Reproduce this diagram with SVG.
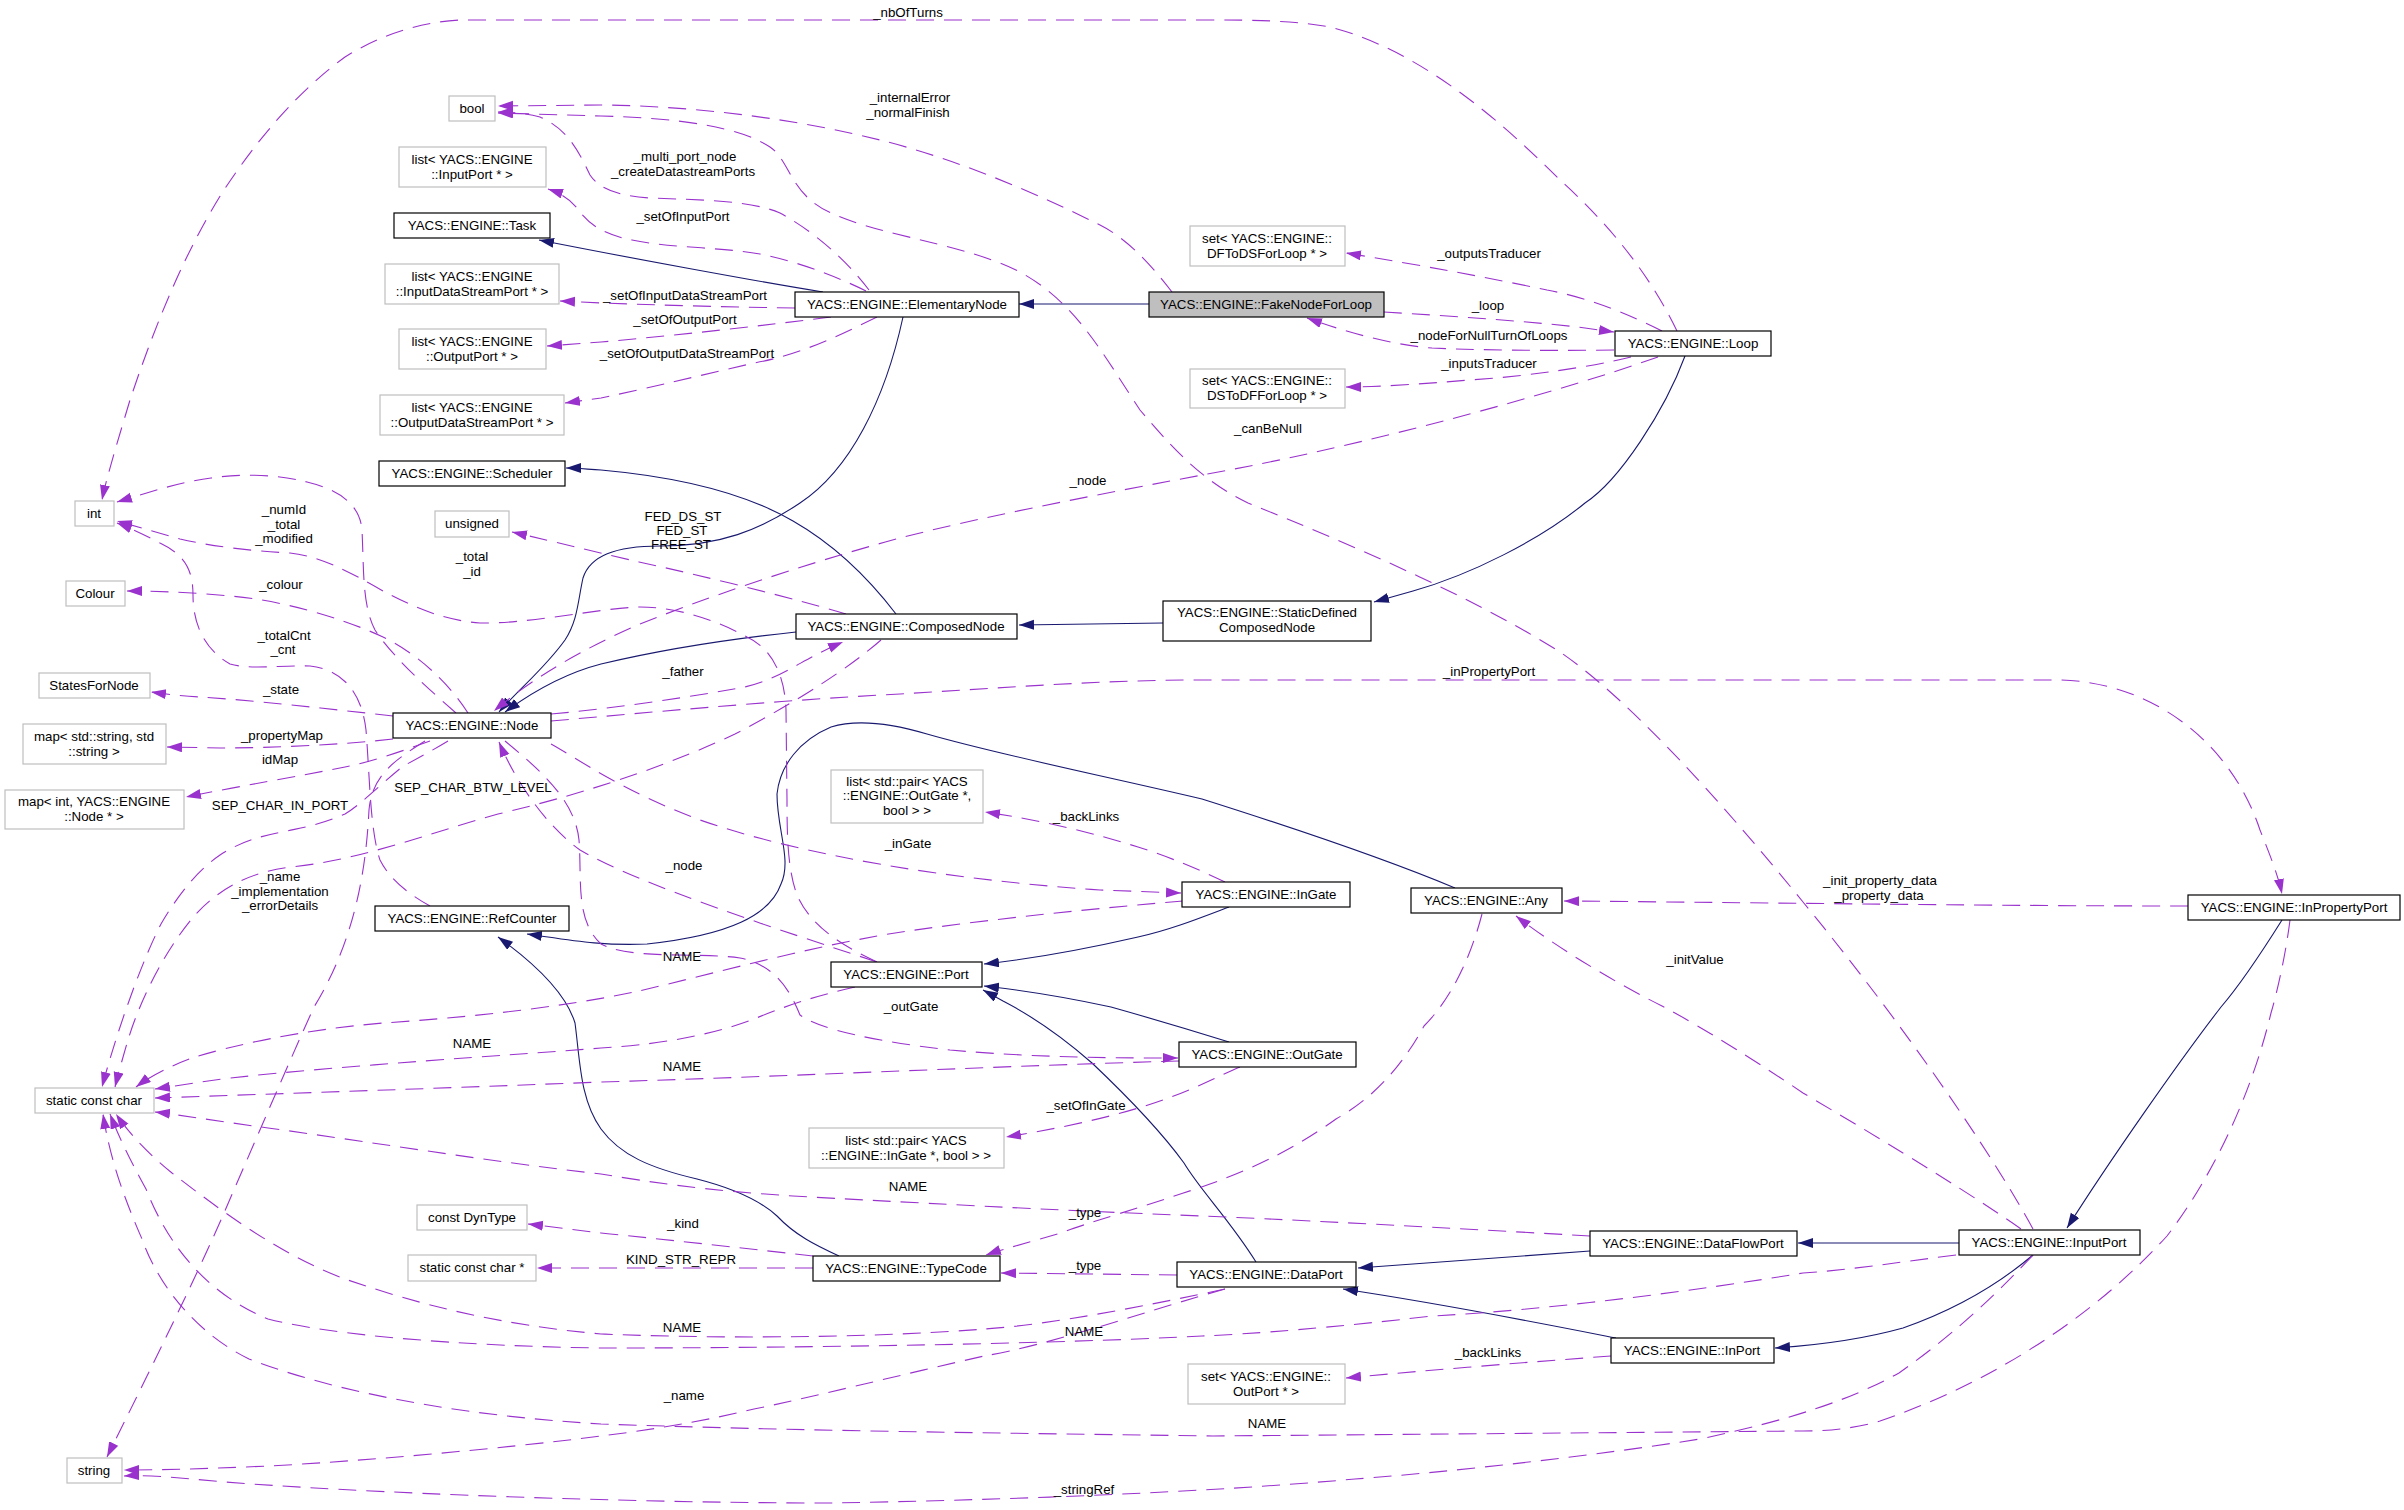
<svg xmlns="http://www.w3.org/2000/svg" width="2404" height="1510" viewBox="0 0 2404 1510">
<style>
text{font-family:"Liberation Sans",Arial,sans-serif;font-size:13.3px;fill:#000;text-anchor:middle}
.n{fill:#fff;stroke:#000;stroke-width:1.2}
.g{fill:#fff;stroke:#bfbfbf;stroke-width:1.2}
.f{fill:#bfbfbf;stroke:#000;stroke-width:1.2}
.e{fill:none;stroke:#9a32cd;stroke-width:1.1;stroke-dasharray:18,10;marker-end:url(#ap)}
.s{fill:none;stroke:#191970;stroke-width:1.1;marker-end:url(#ab)}
</style>
<defs>
<marker id="ap" markerUnits="userSpaceOnUse" markerWidth="16" markerHeight="11" refX="15" refY="5" orient="auto"><path d="M0,0 L15,5 L0,10 z" fill="#9a32cd"/></marker>
<marker id="ab" markerUnits="userSpaceOnUse" markerWidth="16" markerHeight="11" refX="15" refY="5" orient="auto"><path d="M0,0 L15,5 L0,10 z" fill="#191970"/></marker>
</defs>
<rect width="2404" height="1510" fill="#fff"/>
<g id="edges">
<path class="s" d="M1149,304 L1019,304"/>
<path class="s" d="M823,292 C760,282 620,256 539,240"/>
<path class="s" d="M903,317 C885,400 850,470 800,503 C760,530 720,546 660,546 C615,546 590,556 583,578 C578,600 578,620 565,640 C545,668 520,688 499,712"/>
<path class="s" d="M796,632 C720,640 660,650 601,664 C570,672 535,690 505,712"/>
<path class="s" d="M896,614 C870,580 835,545 793,521 C750,496 690,478 601,470 C585,469 575,468 566,468"/>
<path class="s" d="M1163,623 L1019,625"/>
<path class="s" d="M1685,356 C1665,410 1620,480 1585,503 C1540,540 1470,575 1413,591 L1374,602"/>
<path class="s" d="M1455,888 C1400,865 1300,830 1202,799 C1100,775 1000,755 927,734 C900,726 860,718 831,727 C800,740 780,765 777,794 C777,830 792,860 781,884 C770,915 730,935 647,944 C600,946 570,940 527,934"/>
<path class="s" d="M839,1256 C815,1245 795,1235 777,1216 C765,1205 740,1190 697,1179 C650,1168 620,1155 601,1129 C580,1100 580,1060 575,1023 C565,990 530,960 498,937"/>
<path class="s" d="M1256,1262 C1230,1220 1200,1190 1184,1163 C1160,1130 1130,1099 1092,1063 C1060,1035 1030,1015 1003,1001 L983,990"/>
<path class="s" d="M1229,1042 C1200,1033 1150,1018 1111,1007 C1060,996 1020,990 984,986"/>
<path class="s" d="M1229,907 C1200,918 1170,930 1138,937 C1090,948 1040,958 984,964"/>
<path class="s" d="M1590,1251 C1500,1257 1420,1263 1358,1268"/>
<path class="s" d="M1616,1338 C1550,1325 1450,1305 1343,1289"/>
<path class="s" d="M1959,1243 L1798,1243"/>
<path class="s" d="M2033,1255 C2000,1283 1960,1308 1903,1328 C1860,1340 1820,1345 1775,1348"/>
<path class="s" d="M2282,920 C2260,955 2240,985 2221,1007 C2180,1060 2110,1160 2067,1228"/>

<path class="e" d="M1172,292 C1155,270 1130,240 1100,225 C1040,195 960,160 880,140 C800,120 700,106 601,105 L498,106"/>
<path class="e" d="M2033,1229 C1990,1150 1900,1020 1803,902 C1720,800 1630,700 1560,652 C1470,595 1340,540 1248,503 C1200,480 1170,445 1140,410 C1100,350 1070,290 1000,263 C940,240 880,235 831,213 C790,195 790,160 770,147 C740,127 680,118 601,116 L498,113"/>
<path class="e" d="M869,290 C850,265 820,235 780,213 C750,200 700,200 650,198 C620,196 600,190 590,175 C580,155 570,130 540,117 C525,113 510,112 498,112"/>
<path class="e" d="M866,291 C840,278 800,262 760,254 C720,247 670,248 632,240 C605,235 590,225 580,212 C572,200 560,193 548,189"/>
<path class="e" d="M795,308 C720,307 660,305 601,303 L560,301"/>
<path class="e" d="M831,317 C760,326 680,335 601,342 L547,346"/>
<path class="e" d="M877,317 C840,335 800,355 754,363 C690,378 630,392 601,398 L565,403"/>
<path class="e" d="M1384,312 C1450,316 1540,322 1585,328 L1614,332"/>
<path class="e" d="M1614,350 C1550,351 1470,350 1432,348 C1390,345 1340,330 1307,318"/>
<path class="e" d="M1662,331 C1630,315 1590,298 1547,290 C1490,278 1420,265 1346,253"/>
<path class="e" d="M1631,357 C1590,367 1530,376 1470,380 C1420,384 1380,387 1346,387"/>
<path class="e" d="M1677,331 C1650,275 1610,225 1560,180 C1500,120 1420,50 1330,27 C1290,20 1250,20 1202,20 L460,20 C420,22 380,35 345,57 C300,90 260,135 222,193 C180,260 150,340 130,400 C115,450 106,480 102,500"/>
<path class="e" d="M1658,357 C1550,395 1380,440 1250,466 C1150,485 1000,512 900,538 C800,565 700,600 640,624 C580,650 530,680 494,711"/>
<path class="e" d="M846,614 C800,600 700,575 639,562 C600,553 560,543 512,532"/>
<path class="e" d="M877,962 C840,945 810,925 797,895 C788,870 787,840 787,800 L786,710 C785,680 775,650 747,637 C720,622 680,607 640,607 C600,608 530,624 480,623 C440,620 410,605 383,591 C350,572 320,556 290,553 C250,551 210,546 180,539 L117,521"/>
<path class="e" d="M456,713 C430,690 395,660 375,630 C362,605 364,570 362,530 C360,505 340,490 307,482 C280,475 245,473 211,478 C180,482 150,492 117,502"/>
<path class="e" d="M430,906 C410,895 390,880 380,860 C370,830 370,780 366,730 C362,695 345,670 310,666 C280,665 250,670 230,664 C205,650 193,625 193,595 C193,570 185,555 160,543 C145,535 130,528 117,523"/>
<path class="e" d="M468,713 C450,685 420,655 383,637 C340,617 280,600 230,596 C190,592 150,591 127,591"/>
<path class="e" d="M393,716 C330,709 250,700 200,697 C180,696 165,694 151,692"/>
<path class="e" d="M393,739 C340,745 270,748 220,748 L167,747"/>
<path class="e" d="M430,741 C400,752 370,762 345,767 C300,776 240,786 186,797"/>
<path class="e" d="M448,741 C430,752 410,762 402,767 C380,785 360,805 345,814 C320,825 300,828 287,831 C260,836 240,842 220,855 C195,872 175,900 161,924 C145,955 120,1020 102,1087"/>
<path class="e" d="M881,640 C850,667 800,700 735,734 C680,760 600,790 498,814 C420,836 360,860 291,867 C250,872 220,888 195,915 C165,950 140,1000 128,1040 C122,1060 118,1075 115,1087"/>
<path class="e" d="M551,714 C620,708 700,695 740,688 C780,680 800,660 843,642"/>
<path class="e" d="M551,721 C620,715 780,700 900,694 C1000,688 1100,680 1200,680 L2060,680 C2150,682 2230,740 2260,830 C2270,855 2278,875 2282,894"/>
<path class="e" d="M551,744 C580,760 620,790 700,820 C800,855 950,880 1100,890 L1181,893"/>
<path class="e" d="M877,962 C780,930 640,885 580,850 C545,825 515,780 499,742"/>
<path class="e" d="M505,741 C540,770 575,800 579,840 C582,880 575,920 601,944 C630,960 700,952 740,958 C775,965 790,990 800,1015 C820,1030 880,1042 950,1050 C1040,1058 1120,1058 1178,1058"/>
<path class="e" d="M1225,882 C1200,870 1170,857 1138,847 C1090,832 1040,820 985,812"/>
<path class="e" d="M1183,901 C1100,908 1000,918 908,931 C820,944 720,972 639,991 C560,1008 460,1018 383,1023 C300,1030 230,1046 192,1058 C165,1068 148,1078 136,1087"/>
<path class="e" d="M855,987 C820,995 790,1004 754,1019 C720,1032 670,1044 601,1048 C500,1056 350,1065 230,1078 C200,1082 175,1086 155,1089"/>
<path class="e" d="M1179,1061 C1000,1066 800,1076 601,1082 C450,1088 300,1093 155,1098"/>
<path class="e" d="M1240,1067 C1220,1075 1190,1092 1145,1106 C1100,1120 1050,1130 1006,1137"/>
<path class="e" d="M1590,1236 C1450,1228 1300,1220 1202,1216 C1050,1210 900,1202 793,1196 C700,1190 650,1182 601,1174 C500,1163 350,1139 268,1128 C210,1120 180,1115 155,1112"/>
<path class="e" d="M1225,1289 C1150,1305 1050,1325 984,1329 C900,1336 750,1340 601,1334 C500,1325 420,1305 345,1279 C280,1255 220,1210 172,1173 C150,1155 130,1135 116,1114"/>
<path class="e" d="M1956,1255 C1900,1262 1850,1270 1803,1273 C1700,1290 1550,1310 1432,1316 C1330,1328 1250,1334 1202,1336 C1050,1344 800,1348 601,1348 C460,1346 330,1335 268,1319 C210,1295 170,1250 146,1189 C130,1160 118,1135 110,1114"/>
<path class="e" d="M2290,920 C2285,960 2275,1000 2271,1013 C2250,1100 2210,1180 2167,1236 C2100,1310 2000,1380 1880,1421 C1850,1430 1820,1431 1803,1431 L1213,1436 C1000,1433 800,1431 601,1424 C450,1415 330,1390 249,1359 C200,1335 160,1290 142,1239 C125,1200 110,1160 103,1114"/>
<path class="e" d="M425,741 C395,760 372,775 369,810 C366,870 355,940 314,1007 C290,1060 260,1130 230,1199 C200,1270 150,1370 107,1457"/>
<path class="e" d="M1225,1289 C1150,1310 1050,1345 984,1356 C900,1375 800,1400 754,1409 C700,1422 650,1430 601,1436 C500,1449 350,1462 268,1466 C200,1469 160,1470 124,1470"/>
<path class="e" d="M2033,1255 C2000,1290 1960,1330 1899,1373 C1850,1400 1790,1420 1700,1439 C1600,1455 1450,1472 1355,1479 C1200,1493 1000,1500 831,1503 C600,1503 300,1490 192,1479 C160,1476 140,1475 124,1476"/>
<path class="e" d="M1482,914 C1470,960 1450,1000 1424,1026 C1400,1070 1370,1100 1336,1119 C1300,1145 1260,1166 1210,1184 C1150,1205 1080,1225 1061,1233 C1030,1242 1000,1250 986,1255"/>
<path class="e" d="M1177,1275 L1001,1273"/>
<path class="e" d="M813,1256 C760,1250 680,1241 601,1233 L528,1224"/>
<path class="e" d="M813,1268 L537,1268"/>
<path class="e" d="M1611,1356 C1530,1362 1430,1370 1346,1378"/>
<path class="e" d="M2021,1229 C1980,1200 1900,1150 1803,1093 C1740,1050 1680,1015 1662,1006 C1620,985 1560,950 1516,916"/>
<path class="e" d="M2188,906 C2000,906 1800,903 1564,901"/>

<text x="908" y="17">_nbOfTurns</text>
<text x="910" y="102">_internalError</text>
<text x="908" y="117">_normalFinish</text>
<text x="685" y="161">_multi_port_node</text>
<text x="683" y="176">_createDatastreamPorts</text>
<text x="683" y="221">_setOfInputPort</text>
<text x="685" y="300">_setOfInputDataStreamPort</text>
<text x="685" y="324">_setOfOutputPort</text>
<text x="687" y="358">_setOfOutputDataStreamPort</text>
<text x="1489" y="258">_outputsTraducer</text>
<text x="1488" y="310">_loop</text>
<text x="1489" y="340">_nodeForNullTurnOfLoops</text>
<text x="1489" y="368">_inputsTraducer</text>
<text x="1268" y="433">_canBeNull</text>
<text x="1088" y="485">_node</text>
<text x="284" y="514">_numId</text>
<text x="284" y="529">_total</text>
<text x="284" y="543">_modified</text>
<text x="683" y="521">FED_DS_ST</text>
<text x="682" y="535">FED_ST</text>
<text x="681" y="549">FREE_ST</text>
<text x="472" y="561">_total</text>
<text x="472" y="576">_id</text>
<text x="281" y="589">_colour</text>
<text x="284" y="640">_totalCnt</text>
<text x="283" y="654">_cnt</text>
<text x="683" y="676">_father</text>
<text x="1489" y="676">_inPropertyPort</text>
<text x="281" y="694">_state</text>
<text x="282" y="740">_propertyMap</text>
<text x="280" y="764">idMap</text>
<text x="473" y="792">SEP_CHAR_BTW_LEVEL</text>
<text x="280" y="810">SEP_CHAR_IN_PORT</text>
<text x="1086" y="821">_backLinks</text>
<text x="908" y="848">_inGate</text>
<text x="684" y="870">_node</text>
<text x="280" y="881">_name</text>
<text x="280" y="896">_implementation</text>
<text x="280" y="910">_errorDetails</text>
<text x="1880" y="885">_init_property_data</text>
<text x="1879" y="900">_property_data</text>
<text x="682" y="961">NAME</text>
<text x="1695" y="964">_initValue</text>
<text x="911" y="1011">_outGate</text>
<text x="472" y="1048">NAME</text>
<text x="682" y="1071">NAME</text>
<text x="1086" y="1110">_setOfInGate</text>
<text x="908" y="1191">NAME</text>
<text x="1085" y="1217">_type</text>
<text x="683" y="1228">_kind</text>
<text x="681" y="1264">KIND_STR_REPR</text>
<text x="1085" y="1270">_type</text>
<text x="682" y="1332">NAME</text>
<text x="1084" y="1336">NAME</text>
<text x="1488" y="1357">_backLinks</text>
<text x="684" y="1400">_name</text>
<text x="1267" y="1428">NAME</text>
<text x="1084" y="1494">_stringRef</text>
</g>

<g id="bool"><rect class="g" x="449" y="96" width="46" height="25"/><text x="472" y="113">bool</text></g>
<g id="listInputPort"><rect class="g" x="399" y="147" width="147" height="40"/><text x="472" y="164">list&lt; YACS::ENGINE</text><text x="472" y="179">::InputPort * &gt;</text></g>
<g id="Task"><rect class="n" x="394" y="213" width="156" height="25"/><text x="472" y="230">YACS::ENGINE::Task</text></g>
<g id="listInputDSP"><rect class="g" x="385" y="264" width="174" height="40"/><text x="472" y="281">list&lt; YACS::ENGINE</text><text x="472" y="296">::InputDataStreamPort * &gt;</text></g>
<g id="listOutputPort"><rect class="g" x="399" y="329" width="147" height="40"/><text x="472" y="346">list&lt; YACS::ENGINE</text><text x="472" y="361">::OutputPort * &gt;</text></g>
<g id="listOutputDSP"><rect class="g" x="380" y="395" width="184" height="40"/><text x="472" y="412">list&lt; YACS::ENGINE</text><text x="472" y="427">::OutputDataStreamPort * &gt;</text></g>
<g id="Scheduler"><rect class="n" x="379" y="461" width="186" height="25"/><text x="472" y="478">YACS::ENGINE::Scheduler</text></g>
<g id="int"><rect class="g" x="75" y="501" width="39" height="25"/><text x="94" y="518">int</text></g>
<g id="unsigned"><rect class="g" x="435" y="511" width="74" height="26"/><text x="472" y="528">unsigned</text></g>
<g id="Colour"><rect class="g" x="66" y="581" width="59" height="25"/><text x="95" y="598">Colour</text></g>
<g id="StatesForNode"><rect class="g" x="39" y="673" width="111" height="25"/><text x="94" y="690">StatesForNode</text></g>
<g id="mapStrStr"><rect class="g" x="23" y="724" width="143" height="40"/><text x="94" y="741">map&lt; std::string, std</text><text x="94" y="756">::string &gt;</text></g>
<g id="mapIntNode"><rect class="g" x="5" y="790" width="179" height="39"/><text x="94" y="806">map&lt; int, YACS::ENGINE</text><text x="94" y="821">::Node * &gt;</text></g>
<g id="Node"><rect class="n" x="393" y="713" width="158" height="25"/><text x="472" y="730">YACS::ENGINE::Node</text></g>
<g id="RefCounter"><rect class="n" x="375" y="906" width="194" height="25"/><text x="472" y="923">YACS::ENGINE::RefCounter</text></g>
<g id="staticConstChar"><rect class="g" x="35" y="1088" width="119" height="25"/><text x="94" y="1105">static const char</text></g>
<g id="constDynType"><rect class="g" x="417" y="1205" width="110" height="25"/><text x="472" y="1222">const DynType</text></g>
<g id="staticConstCharPtr"><rect class="g" x="408" y="1255" width="128" height="26"/><text x="472" y="1272">static const char *</text></g>
<g id="string"><rect class="g" x="67" y="1458" width="55" height="25"/><text x="94" y="1475">string</text></g>
<g id="ElementaryNode"><rect class="n" x="795" y="292" width="224" height="25"/><text x="907" y="309">YACS::ENGINE::ElementaryNode</text></g>
<g id="FakeNodeForLoop"><rect class="f" x="1149" y="292" width="235" height="25"/><text x="1266" y="309">YACS::ENGINE::FakeNodeForLoop</text></g>
<g id="setDFToDS"><rect class="g" x="1190" y="226" width="155" height="40"/><text x="1267" y="243">set&lt; YACS::ENGINE::</text><text x="1267" y="258">DFToDSForLoop * &gt;</text></g>
<g id="Loop"><rect class="n" x="1615" y="331" width="156" height="25"/><text x="1693" y="348">YACS::ENGINE::Loop</text></g>
<g id="setDSToDF"><rect class="g" x="1190" y="369" width="155" height="39"/><text x="1267" y="385">set&lt; YACS::ENGINE::</text><text x="1267" y="400">DSToDFForLoop * &gt;</text></g>
<g id="ComposedNode"><rect class="n" x="796" y="614" width="221" height="25"/><text x="906" y="631">YACS::ENGINE::ComposedNode</text></g>
<g id="StaticDefinedComposedNode"><rect class="n" x="1163" y="601" width="208" height="40"/><text x="1267" y="617">YACS::ENGINE::StaticDefined</text><text x="1267" y="632">ComposedNode</text></g>
<g id="listPairOutGate"><rect class="g" x="831" y="770" width="152" height="53"/><text x="907" y="786">list&lt; std::pair&lt; YACS</text><text x="907" y="800">::ENGINE::OutGate *,</text><text x="907" y="815">bool &gt; &gt;</text></g>
<g id="InGate"><rect class="n" x="1182" y="882" width="168" height="25"/><text x="1266" y="899">YACS::ENGINE::InGate</text></g>
<g id="Any"><rect class="n" x="1411" y="888" width="151" height="25"/><text x="1486" y="905">YACS::ENGINE::Any</text></g>
<g id="InPropertyPort"><rect class="n" x="2188" y="895" width="212" height="25"/><text x="2294" y="912">YACS::ENGINE::InPropertyPort</text></g>
<g id="Port"><rect class="n" x="831" y="962" width="151" height="25"/><text x="906" y="979">YACS::ENGINE::Port</text></g>
<g id="OutGate"><rect class="n" x="1179" y="1042" width="177" height="25"/><text x="1267" y="1059">YACS::ENGINE::OutGate</text></g>
<g id="listPairInGate"><rect class="g" x="809" y="1128" width="195" height="40"/><text x="906" y="1145">list&lt; std::pair&lt; YACS</text><text x="906" y="1160">::ENGINE::InGate *, bool &gt; &gt;</text></g>
<g id="TypeCode"><rect class="n" x="813" y="1256" width="187" height="25"/><text x="906" y="1273">YACS::ENGINE::TypeCode</text></g>
<g id="DataPort"><rect class="n" x="1177" y="1262" width="179" height="25"/><text x="1266" y="1279">YACS::ENGINE::DataPort</text></g>
<g id="DataFlowPort"><rect class="n" x="1590" y="1231" width="207" height="25"/><text x="1693" y="1248">YACS::ENGINE::DataFlowPort</text></g>
<g id="InputPort"><rect class="n" x="1959" y="1230" width="181" height="25"/><text x="2049" y="1247">YACS::ENGINE::InputPort</text></g>
<g id="InPort"><rect class="n" x="1611" y="1338" width="163" height="25"/><text x="1692" y="1355">YACS::ENGINE::InPort</text></g>
<g id="setOutPort"><rect class="g" x="1188" y="1364" width="157" height="40"/><text x="1266" y="1381">set&lt; YACS::ENGINE::</text><text x="1266" y="1396">OutPort * &gt;</text></g>
</svg>
